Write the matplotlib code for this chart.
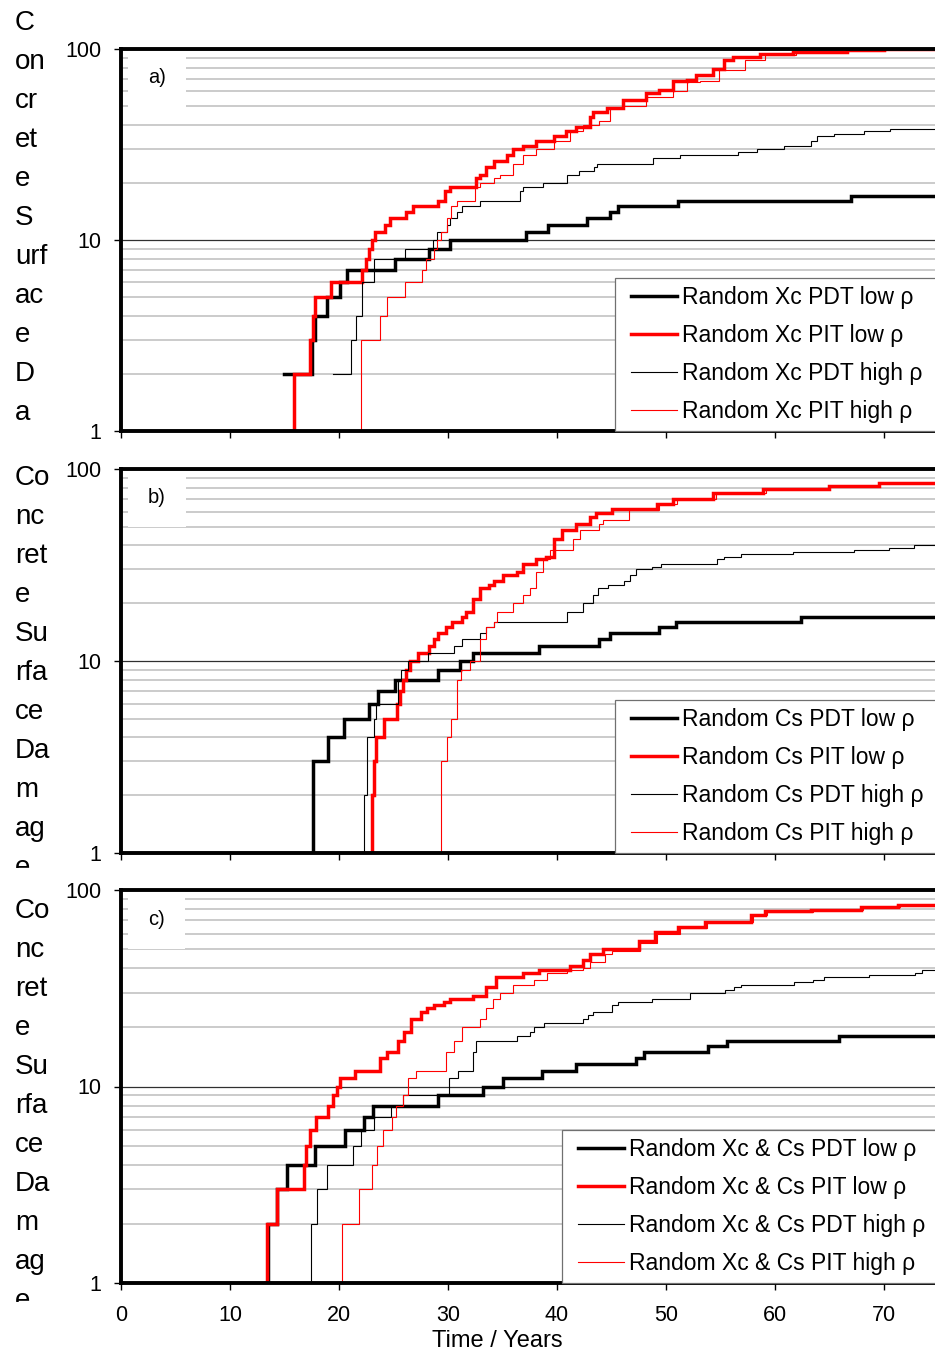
import matplotlib
matplotlib.use('Agg')
import matplotlib.pyplot as plt
from matplotlib.lines import Line2D
from matplotlib.legend_handler import HandlerLine2D
from matplotlib.ticker import FixedLocator, LogLocator, NullFormatter, FuncFormatter
from matplotlib.transforms import Bbox, TransformedBbox

plt.rcParams['font.family'] = ['Liberation Sans', 'DejaVu Sans']

# ── Data (time in years, surface damage in %) ────────────────────────────────
# a) random Xc
a_pdt_low_t = [15.0, 17.5, 17.8, 18.9, 20.1, 20.7, 25.1, 28.3, 30.2, 37.2, 39.2, 42.8, 44.9, 45.6, 51.1, 67.0, 74.8]
a_pdt_low_v = [2, 3, 4, 5, 6, 7, 8, 9, 10, 11, 12, 13, 14, 15, 16, 17, 17]
a_pit_low_t = [15.0, 15.9, 17.3, 17.6, 17.8, 19.3, 22.1, 22.5, 22.8, 23.0, 23.3, 24.2, 24.7, 26.2, 26.8,
               29.1, 29.7, 30.2, 32.6, 32.9, 33.5, 34.2, 35.4, 36.0, 36.9, 38.1, 39.7, 40.8, 41.8, 43.0,
               43.3, 44.6, 46.1, 48.2, 49.4, 50.7, 51.9, 52.8, 54.3, 55.3, 56.2, 58.6, 61.7, 66.6, 70.0, 74.8]
a_pit_low_v = [1, 2, 3, 4, 5, 6, 7, 8, 9, 10, 11, 12, 13, 14, 15,
               16, 18, 19, 21, 22, 24, 26, 28, 30, 31, 33, 35, 37, 39, 44,
               47, 49, 54, 59, 61, 68, 69, 73, 79, 88, 91, 94, 97, 99, 100, 100]
a_pdt_high_t = [19.5, 21.1, 21.6, 22.1, 23.2, 26.1, 28.6, 29.0, 29.9, 30.2, 30.8, 31.3, 32.9, 36.6, 36.9,
                38.7, 40.9, 42.0, 43.4, 43.7, 48.8, 51.3, 56.6, 58.4, 60.8, 63.3, 63.9, 65.4, 68.2, 70.6, 74.8]
a_pdt_high_v = [2, 3, 4, 6, 8, 9, 10, 11, 12, 13, 14, 15, 16, 18, 19,
                20, 22, 23, 24, 25, 27, 28, 29, 30, 31, 33, 35, 36, 37, 38, 38]
a_pit_high_t = [20.1, 22.0, 23.8, 24.4, 26.1, 27.6, 28.0, 28.7, 29.0, 29.4, 29.9, 30.3, 30.8, 32.5, 32.9,
                34.2, 34.8, 36.0, 36.9, 38.1, 39.7, 41.2, 42.4, 43.9, 44.9, 46.1, 48.2, 50.7, 51.9, 53.1,
                54.9, 57.3, 59.1, 61.9, 66.6, 70.0, 74.8]
a_pit_high_v = [1, 3, 4, 5, 6, 7, 8, 9, 10, 11, 13, 15, 16, 19, 20,
                21, 22, 25, 28, 30, 33, 37, 40, 42, 49, 50, 56, 60, 67, 68,
                78, 88, 93, 97, 99, 100, 100]

# b) random Cs
b_pdt_low_t = [17.5, 17.6, 19.0, 20.5, 22.8, 23.6, 25.1, 29.1, 31.1, 32.3, 38.4, 43.9, 44.9, 49.4, 50.9, 62.4, 74.8]
b_pdt_low_v = [1, 3, 4, 5, 6, 7, 8, 9, 10, 11, 12, 13, 14, 15, 16, 17, 17]
b_pit_low_t = [21.2, 23.0, 23.2, 23.4, 24.1, 25.3, 25.6, 25.9, 26.2, 26.5, 27.3, 28.3, 28.7, 29.1, 29.8,
               30.4, 31.3, 31.7, 32.3, 32.9, 33.8, 34.2, 35.1, 36.3, 36.9, 38.1, 39.0, 39.7, 40.5, 41.8,
               43.0, 43.6, 45.1, 49.2, 50.7, 54.3, 58.9, 65.0, 69.6, 74.8]
b_pit_low_v = [1, 2, 3, 4, 5, 6, 7, 8, 9, 10, 11, 12, 13, 14, 15,
               16, 17, 18, 21, 24, 25, 26, 28, 29, 32, 34, 35, 43, 48, 52,
               56, 59, 62, 66, 70, 75, 79, 82, 85, 86]
b_pdt_high_t = [21.9, 22.3, 22.6, 23.2, 23.4, 25.4, 25.7, 26.3, 28.2, 30.6, 31.3, 32.9, 33.5, 34.2, 40.9,
                42.4, 43.3, 43.8, 44.7, 46.2, 46.7, 47.3, 48.7, 49.6, 54.7, 55.3, 56.9, 61.7, 67.3, 70.5,
                72.8, 74.8]
b_pdt_high_v = [1, 2, 4, 5, 6, 8, 9, 10, 11, 12, 13, 14, 15, 16, 18,
                20, 22, 24, 25, 26, 28, 30, 31, 32, 34, 35, 36, 37, 38, 39,
                40, 40]
b_pit_high_t = [28.8, 29.4, 29.9, 30.3, 30.8, 31.2, 32.0, 32.9, 33.5, 34.2, 34.5, 36.0, 36.9, 37.5, 38.1,
                38.7, 39.4, 41.5, 42.1, 43.9, 44.2, 46.6, 49.4, 51.0, 54.6, 59.2, 65.0, 69.6, 74.8]
b_pit_high_v = [1, 3, 4, 5, 8, 9, 10, 13, 15, 16, 18, 20, 22, 24, 29,
                34, 38, 43, 48, 52, 54, 61, 66, 70, 75, 79, 82, 85, 86]

# c) random Xc & Cs
c_pdt_low_t = [13.4, 13.5, 14.3, 15.2, 17.8, 20.6, 22.3, 23.1, 29.1, 33.2, 35.1, 38.6, 41.8, 47.3, 48.0,
               53.9, 55.6, 65.9, 74.8]
c_pdt_low_v = [1, 2, 3, 4, 5, 6, 7, 8, 9, 10, 11, 12, 13, 14, 15, 16, 17, 18, 18]
c_pit_low_t = [13.2, 13.4, 14.3, 16.8, 17.0, 17.3, 17.9, 19.0, 19.5, 19.8, 20.1, 21.5, 23.8, 24.4, 25.4,
               26.0, 26.6, 27.5, 28.1, 28.7, 29.6, 30.2, 32.3, 33.5, 34.4, 36.9, 38.4, 41.2, 42.4, 43.0,
               44.2, 47.5, 49.0, 51.1, 53.6, 57.8, 59.1, 63.3, 67.9, 71.3, 74.8]
c_pit_low_v = [1, 2, 3, 4, 5, 6, 7, 8, 9, 10, 11, 12, 14, 15, 17,
               19, 22, 24, 25, 26, 27, 28, 29, 32, 36, 38, 39, 41, 44, 47,
               50, 55, 61, 65, 69, 75, 78, 79, 82, 84, 85]
c_pdt_high_t = [17.3, 17.4, 18.0, 18.9, 21.3, 22.0, 23.2, 24.8, 25.9, 30.1, 30.9, 32.3, 32.6, 36.3, 37.5,
                37.9, 38.8, 42.4, 42.9, 43.3, 45.1, 45.6, 48.7, 52.2, 55.4, 56.3, 56.9, 61.8, 63.5, 64.5,
                68.6, 72.9, 73.5, 74.8]
c_pdt_high_v = [1, 2, 3, 4, 5, 6, 7, 8, 9, 11, 12, 15, 17, 18, 19,
                20, 21, 22, 23, 24, 26, 27, 28, 30, 31, 32, 33, 34, 35, 36,
                37, 38, 39, 39]
c_pit_high_t = [19.3, 20.3, 21.8, 23.0, 23.5, 24.0, 24.9, 25.2, 25.9, 26.3, 27.1, 29.8, 30.6, 31.3, 32.9,
                33.5, 34.1, 34.8, 36.0, 37.9, 39.1, 40.9, 42.4, 43.0, 44.4, 45.1, 47.6, 49.2, 51.3, 53.8,
                58.0, 59.3, 63.5, 68.1, 71.5, 74.8]
c_pit_high_v = [1, 2, 3, 4, 5, 6, 7, 8, 9, 11, 12, 15, 17, 20, 22,
                25, 28, 30, 33, 35, 38, 39, 40, 43, 47, 49, 54, 60, 64, 69,
                75, 77, 79, 82, 84, 85]

labels_a = ['Random Xc PDT low ρ', 'Random Xc PIT low ρ', 'Random Xc PDT high ρ', 'Random Xc PIT high ρ']
labels_b = ['Random Cs PDT low ρ', 'Random Cs PIT low ρ', 'Random Cs PDT high ρ', 'Random Cs PIT high ρ']
labels_c = ['Random Xc & Cs PDT low ρ', 'Random Xc & Cs PIT low ρ',
            'Random Xc & Cs PDT high ρ', 'Random Xc & Cs PIT high ρ']
panel_tags = ['a)', 'b)', 'c)']

# broken-up y axis title, as the spreadsheet wrapped it
ylab_a = ['C', 'on', 'cr', 'et', 'e', 'S', 'urf', 'ac', 'e', 'D', 'a']
ylab_bc = ['Co', 'nc', 'ret', 'e', 'Su', 'rfa', 'ce', 'Da', 'm', 'ag', 'e']

x_ticks = [0, 10, 20, 30, 40, 50, 60, 70]
y_ticks = [1, 10, 100]

# ── Layout (pixels of a 935 x 1357 canvas) ───────────────────────────────────
W, H = 935, 1357
panels = [
    dict(top=49, bot=431, series=[(a_pdt_low_t, a_pdt_low_v), (a_pit_low_t, a_pit_low_v),
                                   (a_pdt_high_t, a_pdt_high_v), (a_pit_high_t, a_pit_high_v)],
         labels=labels_a, leg_x=615, ylab=ylab_a, ylab_base=30, ylab_clip=(0, 442)),
    dict(top=469, bot=853, series=[(b_pdt_low_t, b_pdt_low_v), (b_pit_low_t, b_pit_low_v),
                                    (b_pdt_high_t, b_pdt_high_v), (b_pit_high_t, b_pit_high_v)],
         labels=labels_b, leg_x=615, ylab=ylab_bc, ylab_base=485, ylab_clip=(450, 868)),
    dict(top=890, bot=1283, series=[(c_pdt_low_t, c_pdt_low_v), (c_pit_low_t, c_pit_low_v),
                                     (c_pdt_high_t, c_pdt_high_v), (c_pit_high_t, c_pit_high_v)],
         labels=labels_c, leg_x=562, ylab=ylab_bc, ylab_base=918, ylab_clip=(885, 1302)),
]
styles = [dict(color='black', lw=2.5), dict(color='#ff0000', lw=2.5),
          dict(color='black', lw=0.8), dict(color='#ff0000', lw=0.8)]

LEFT, RIGHT = 121, 935
XMAX = 74.7

fig = plt.figure(figsize=(W / 100, H / 100), dpi=100)

for k, p in enumerate(panels):
    ax = fig.add_axes([LEFT / W, 1 - p['bot'] / H, (RIGHT - LEFT) / W, (p['bot'] - p['top']) / H])
    for (t, v), st, lab in zip(p['series'], styles, p['labels']):
        ax.plot(t, v, drawstyle='steps-post', label=lab, solid_joinstyle='miter', **st)

    ax.set_yscale('log')
    ax.set_ylim(1, 100)
    ax.set_xlim(0, XMAX)
    ax.yaxis.set_major_locator(FixedLocator(y_ticks))
    ax.yaxis.set_major_formatter(FuncFormatter(lambda y, _: f'{y:g}'))
    ax.yaxis.set_minor_locator(LogLocator(base=10, subs=range(2, 10)))
    ax.yaxis.set_minor_formatter(NullFormatter())
    ax.xaxis.set_major_locator(FixedLocator(x_ticks))

    ax.grid(False)
    ax.yaxis.grid(True, which='minor', color='#bdbdbd', lw=1.1)
    ax.yaxis.grid(True, which='major', color='#303030', lw=0.9)
    ax.set_axisbelow(True)

    ax.tick_params(axis='y', which='major', direction='out', length=5, width=1,
                   labelsize=15.5, pad=9)
    ax.tick_params(axis='y', which='minor', length=0)
    ax.tick_params(axis='x', direction='out', length=5, width=1, labelsize=15.5, pad=11,
                   labelbottom=(k == 2))

    for side in ('left', 'bottom', 'top'):
        ax.spines[side].set_linewidth(2.8)
        ax.spines[side].set_color('black')
    ax.spines['right'].set_visible(False)

    ax.text(0.044, 0.925, panel_tags[k], transform=ax.transAxes, fontsize=14.5,
            ha='center', va='center', zorder=2,
            bbox=dict(boxstyle='square,pad=1.0', fc='white', ec='none'))

    x0 = (p['leg_x'] - LEFT) / (RIGHT - LEFT)
    leg = ax.legend(loc='lower left', bbox_to_anchor=(x0, 0.0, 1.2 - x0, 0.6), mode='expand',
                    borderaxespad=0, fontsize=16.5, frameon=True, fancybox=False,
                    edgecolor='#707070', framealpha=1, handlelength=2.35, handletextpad=0.22,
                    labelspacing=0.66, borderpad=0.35,
                    handler_map={Line2D: HandlerLine2D(xpad=0.35)})
    leg.get_frame().set_linewidth(0.9)

    # wrapped y title, clipped to the panel band like the original export
    clip = TransformedBbox(Bbox.from_extents(0, 1 - p['ylab_clip'][1] / H, LEFT / W, 1 - p['ylab_clip'][0] / H),
                           fig.transFigure)
    for i, frag in enumerate(p['ylab']):
        tx = fig.text(15 / W, 1 - (p['ylab_base'] + 39 * i) / H, frag, fontsize=20,
                      ha='left', va='baseline')
        tx.set_clip_box(clip)
        tx.set_clip_on(True)

    if k == 2:
        ax.set_xlabel('Time / Years', fontsize=17, va='center')
        ax.xaxis.set_label_coords((497 - LEFT) / (RIGHT - LEFT), -(1341 - p['bot']) / (p['bot'] - p['top']))

fig.savefig('out.png', dpi=100)
